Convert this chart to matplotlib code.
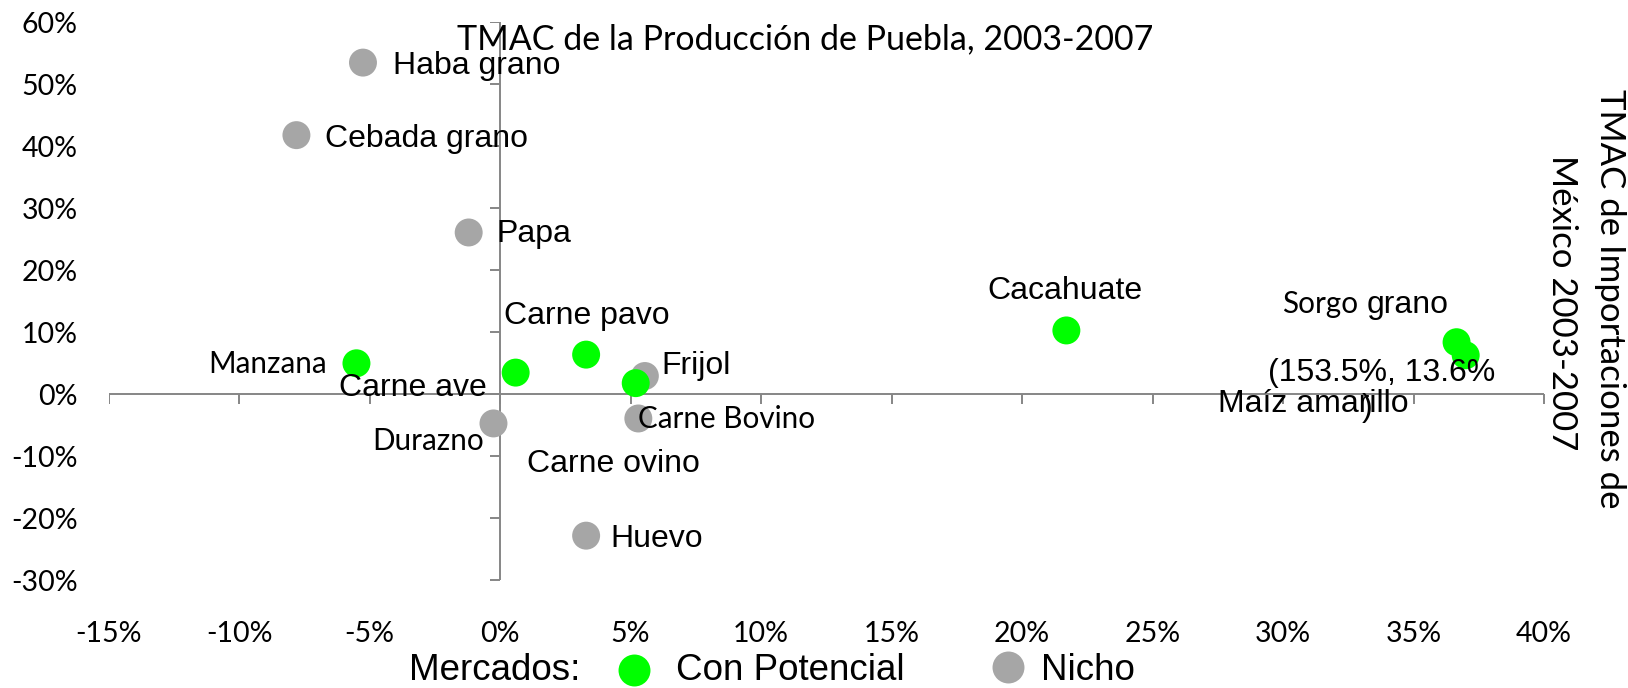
import numpy as np
import matplotlib
matplotlib.use("Agg")
import matplotlib.pyplot as plt
from matplotlib.lines import Line2D

# ---------------- data (percent) ----------------
cat_potencial = ["Manzana", "Carne ave", "Carne pavo", "Carne ovino",
                 "Cacahuate", "Sorgo grano", "Maíz amarillo"]
x_potencial = [-5.5, 0.6, 3.3, 5.2, 21.7, 36.65, 37.0]
y_potencial = [5.0, 3.5, 6.4, 1.8, 10.3, 8.4, 6.3]

cat_nicho = ["Haba grano", "Cebada grano", "Papa", "Frijol",
             "Carne Bovino", "Durazno", "Huevo"]
x_nicho = [-5.25, -7.8, -1.2, 5.55, 5.3, -0.25, 3.3]
y_nicho = [53.5, 41.8, 26.1, 2.95, -3.9, -4.7, -22.8]

x_ticks = list(range(-15, 41, 5))
y_ticks = list(range(-30, 61, 10))

title = "TMAC de la Producción de Puebla, 2003-2007"
ylabel_lines = ["TMAC de Importaciones de", "México 2003-2007"]
legend_title = "Mercados:"
series_names = ["Con Potencial", "Nicho"]
maiz_real = "(153.5%, 13.6%"

# ---------------- styles ----------------
GREEN = "#00FF00"
GRAY = "#A6A6A6"
AXIS = "#868686"
ARIAL = ["Liberation Sans", "DejaVu Sans"]
CALIBRI = ["Lato", "DejaVu Sans"]

W, H = 1628, 688
fig = plt.figure(figsize=(W / 100, H / 100), dpi=100)
left_px, right_px, top_px, bot_px = 108.5, 1544, 22.3, 580.3
ax = fig.add_axes([left_px / W, 1 - bot_px / H, (right_px - left_px) / W, (bot_px - top_px) / H])
ax.set_xlim(x_ticks[0], x_ticks[-1])
ax.set_ylim(y_ticks[0], y_ticks[-1])
for s in ax.spines.values():
    s.set_visible(False)
ax.set_xticks(x_ticks)
ax.set_yticks(y_ticks)
ax.set_xticklabels([f"{v}%" for v in x_ticks], fontfamily=CALIBRI, fontsize=20.5)
ax.set_yticklabels([f"{v}%" for v in y_ticks], fontfamily=CALIBRI, fontsize=20.5)
ax.tick_params(axis="x", length=0, pad=29)
ax.tick_params(axis="y", length=0, pad=22)

# axes crossing at zero, Excel style
ax.axhline(0, color=AXIS, lw=1.4, zorder=1)
ax.axvline(0, color=AXIS, lw=1.4, zorder=1)
ax.plot(x_ticks, [0] * len(x_ticks), ls="none", marker=3, ms=7.2, mew=1.4, color=AXIS, zorder=1)
ax.plot([0] * len(y_ticks), y_ticks, ls="none", marker=0, ms=7.2, mew=1.4, color=AXIS, zorder=1)

ax.scatter(x_nicho, y_nicho, s=405, color=GRAY, edgecolors="none", zorder=3)
ax.scatter(x_potencial, y_potencial, s=405, color=GREEN, edgecolors="none", zorder=4)

# label placement (offsets in pixels from the point, ha, font family)
label_style = {
    "Haba grano": (30, -11, "left", ARIAL),
    "Cebada grano": (29, -11.7, "left", ARIAL),
    "Papa": (28, -10, "left", ARIAL),
    "Frijol": (17, 2, "left", ARIAL),
    "Carne Bovino": (0, -10, "left", CALIBRI),
    "Durazno": (-9.4, -26.7, "right", CALIBRI),
    "Huevo": (24, -11.5, "left", ARIAL),
    "Manzana": (-30, -10, "right", CALIBRI),
    "Carne ave": (-29, -23.4, "right", ARIAL),
    "Carne pavo": (-82, 31, "left", ARIAL),
    "Carne ovino": (-109, -89, "left", ARIAL),
    "Cacahuate": (-1, 31.4, "center", ARIAL),
}
size_for = {id(ARIAL): 23, id(CALIBRI): 21.3}


def put(text, xy, dx, dy, ha, fam):
    ax.annotate(text, xy=xy, xytext=(dx, dy), textcoords="offset pixels",
                ha=ha, va="baseline", fontfamily=fam, fontsize=size_for[id(fam)],
                color="black", zorder=5)


for names, xs, ys in [(cat_nicho, x_nicho, y_nicho), (cat_potencial, x_potencial, y_potencial)]:
    for n, xv, yv in zip(names, xs, ys):
        if n in label_style:
            dx, dy, ha, fam = label_style[n]
            put(n, (xv, yv), dx, dy, ha, fam)

# Sorgo grano (mixed fonts)
i = cat_potencial.index("Sorgo grano")
sp = (x_potencial[i], y_potencial[i])
put("Sorgo", sp, -98.4, 29, "right", CALIBRI)
put("grano", sp, -90.4, 29, "left", ARIAL)

# Maíz amarillo (point outside range, real value given)
i = cat_potencial.index("Maíz amarillo")
mp = (x_potencial[i], y_potencial[i])
put(maiz_real, mp, -198, -26, "left", ARIAL)
put("Maíz amarillo", mp, -248, -57, "left", ARIAL)
put(")", mp, -104, -60.5, "left", ARIAL)

# title
fig.text(805 / W, 1 - 49.3 / H, title, ha="center", va="baseline",
         fontfamily=CALIBRI, fontsize=24.5)

# right-side axis title (rotated, reads top to bottom)
fig.text(1610 / W, 1 - 89 / H, ylabel_lines[0], rotation=270, ha="center", va="top",
         fontfamily=CALIBRI, fontsize=25)
fig.text(1562 / W, 1 - 155 / H, ylabel_lines[1], rotation=270, ha="center", va="top",
         fontfamily=CALIBRI, fontsize=25)

# legend
LEG_BASE = 680.5
fig.text(409 / W, 1 - LEG_BASE / H, legend_title, ha="left", va="baseline",
         fontfamily=ARIAL, fontsize=26.5)
for (cx, cy), col, name, tx in [((634, 670), GREEN, series_names[0], 676),
                                ((1007.5, 667), GRAY, series_names[1], 1040.5)]:
    fig.add_artist(Line2D([cx / W], [1 - cy / H], marker="o", ms=23, color=col,
                          mec="none", ls="none", transform=fig.transFigure))
    fig.text(tx / W, 1 - LEG_BASE / H, name, ha="left", va="baseline",
             fontfamily=ARIAL, fontsize=26.5)

fig.savefig("out.png", dpi=100)
